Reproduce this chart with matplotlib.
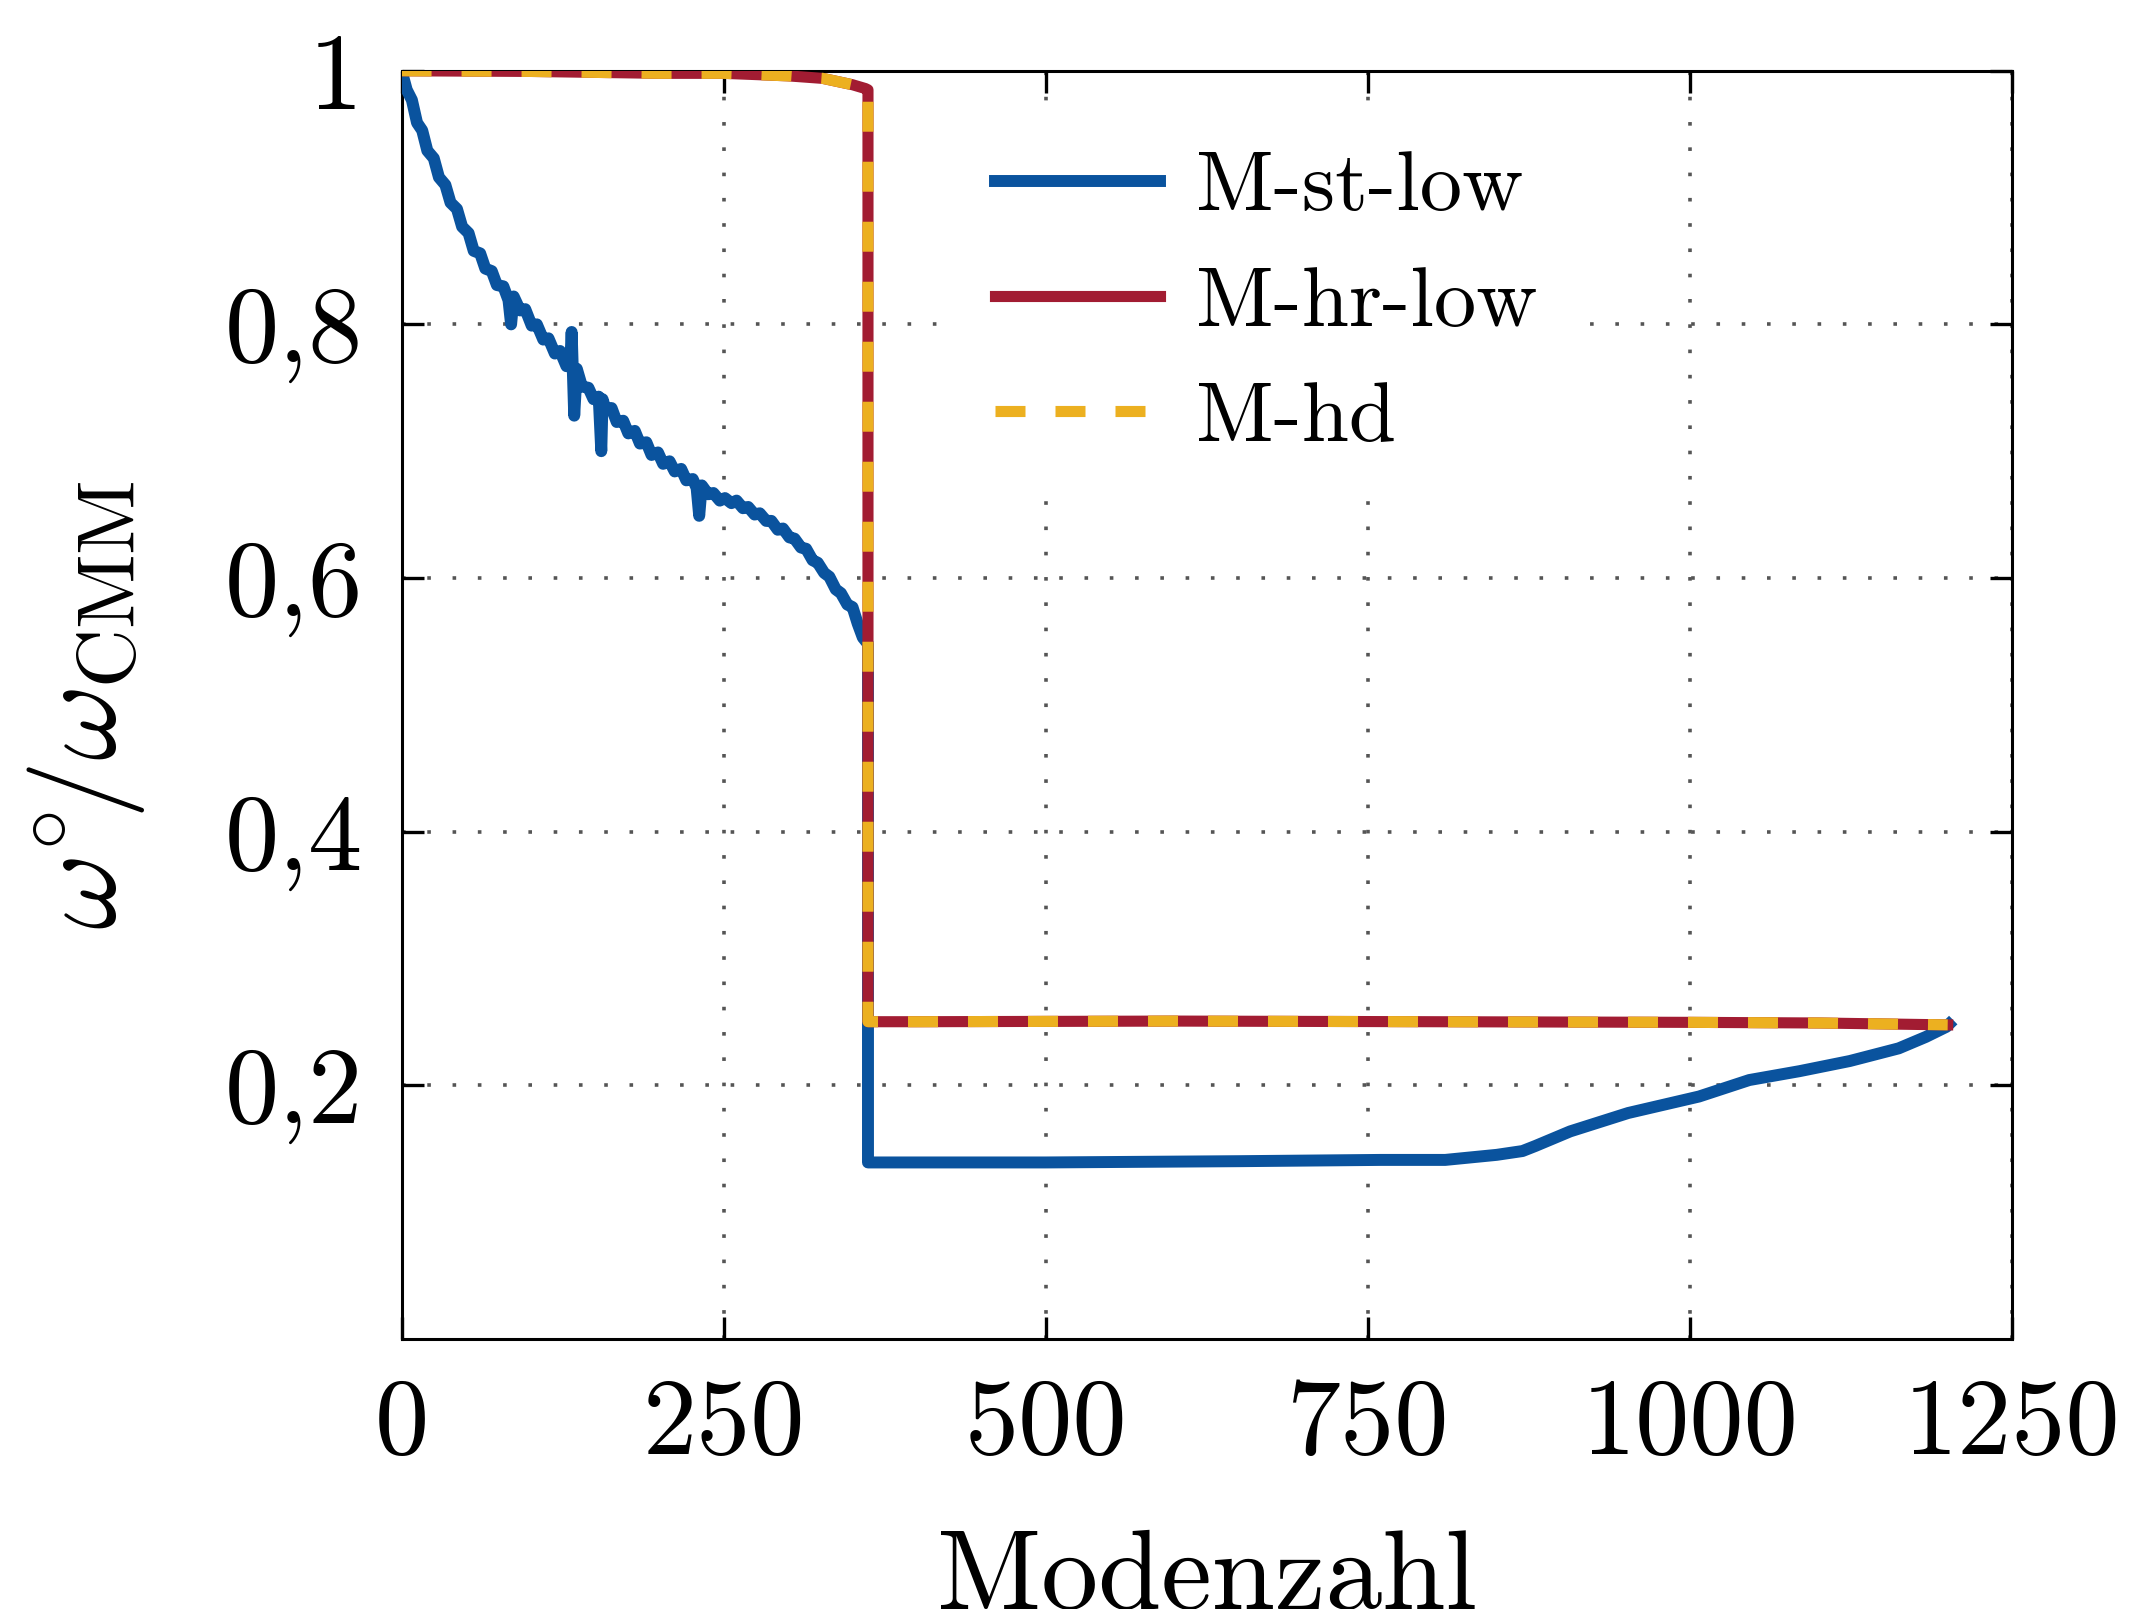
import numpy as np
import matplotlib
matplotlib.use('Agg')
import matplotlib.pyplot as plt

plt.rcParams['font.family'] = 'serif'
plt.rcParams['font.serif'] = ['cmr10', 'DejaVu Serif']
plt.rcParams['mathtext.fontset'] = 'cm'
plt.rcParams['axes.unicode_minus'] = False
plt.rcParams['axes.formatter.use_mathtext'] = True

# M-st-low
st_x = [0, 4, 8, 12, 16, 20, 25, 29, 34, 38, 43, 47, 52, 56, 61, 65, 70, 74, 79, 83,
        85, 87, 92, 96, 101, 105, 110, 114, 119, 123, 128, 131, 132, 134, 136, 140,
        145, 149, 153, 155, 156, 158, 163, 167, 172, 176, 181, 185, 190, 194, 199,
        203, 208, 212, 217, 221, 226, 229, 231, 233, 238, 242, 247, 251, 256, 260,
        265, 269, 274, 278, 283, 287, 292, 296, 301, 305, 310, 314, 319, 323, 328,
        332, 337, 341, 346, 350, 354, 358, 362, 362,
        400, 500, 650, 760, 810, 850, 870, 880, 907, 952, 1007, 1046, 1085, 1124,
        1162, 1183, 1199, 1201]
st_y = [1.000, 0.985, 0.977, 0.959, 0.953, 0.937, 0.931, 0.916, 0.910, 0.896, 0.891,
        0.877, 0.872, 0.858, 0.856, 0.844, 0.842, 0.831, 0.830, 0.819,
        0.800, 0.822, 0.811, 0.812, 0.799, 0.800, 0.788, 0.789, 0.777, 0.779, 0.767,
        0.770, 0.794, 0.728, 0.765, 0.751, 0.750, 0.741, 0.743, 0.700, 0.741, 0.734,
        0.734, 0.723, 0.724, 0.714, 0.716, 0.706, 0.707, 0.697, 0.699, 0.690, 0.692,
        0.684, 0.686, 0.677, 0.678, 0.671, 0.649, 0.673, 0.666, 0.667, 0.661, 0.663,
        0.659, 0.661, 0.655, 0.656, 0.650, 0.651, 0.645, 0.645, 0.638, 0.639, 0.632,
        0.631, 0.624, 0.623, 0.614, 0.612, 0.604, 0.601, 0.591, 0.588, 0.579, 0.577,
        0.564, 0.553, 0.548, 0.139,
        0.139, 0.139, 0.140, 0.141, 0.141, 0.145, 0.148, 0.152, 0.1635, 0.178, 0.191,
        0.204, 0.211, 0.219, 0.229, 0.238, 0.246, 0.248]

# M-hr-low
hr_x = [0, 100, 200, 250, 300, 327, 350, 360, 362, 362, 400, 600, 800, 1000, 1100, 1200]
hr_y = [1.000, 0.9995, 0.998, 0.998, 0.996, 0.994, 0.989, 0.986, 0.985, 0.250,
        0.250, 0.2505, 0.250, 0.2495, 0.249, 0.2475]

# M-hd
hd_x = [0, 100, 200, 250, 300, 327, 350, 360, 362, 362, 400, 600, 800, 1000, 1100, 1200]
hd_y = [1.000, 0.9995, 0.998, 0.998, 0.996, 0.994, 0.989, 0.986, 0.985, 0.250,
        0.250, 0.2505, 0.250, 0.2495, 0.249, 0.2475]

xticks = [0, 250, 500, 750, 1000, 1250]
yticks = [0.2, 0.4, 0.6, 0.8, 1.0]
ytick_labels = ['0,2', '0,4', '0,6', '0,8', '1']

fig = plt.figure(figsize=(10.68, 8.045), dpi=200)
ax = fig.add_axes([0.188, 0.168, 0.754, 0.788])

ax.plot(st_x, st_y, color='#0A539E', lw=4.3, label='M-st-low', zorder=3)
ax.plot(hr_x, hr_y, color='#A21C32', lw=4.0, label='M-hr-low', zorder=4)
ax.plot(hd_x, hd_y, color='#ECB020', lw=4.0, ls=(0, (2.7, 2.7)), label='M-hd', zorder=5)

ax.set_xlim(0, 1250)
ax.set_ylim(0, 1)
ax.set_xticks(xticks)
ax.set_xticklabels([str(t) for t in xticks])
ax.set_yticks(yticks)
ax.set_yticklabels(ytick_labels)
ax.tick_params(direction='in', length=8, width=1.2, top=True, right=True,
               labelsize=39, pad=14)
for s in ax.spines.values():
    s.set_linewidth(1.1)
ax.grid(True, color='#555555', ls=(0, (1, 6)), lw=1.3)
ax.set_axisbelow(True)

ax.set_xlabel('Modenzahl', fontsize=41, labelpad=20)
ax.set_ylabel(r'$\omega^{\circ}\!/\omega_{\mathrm{CMM}}$', fontsize=42, labelpad=28)

leg = ax.legend(loc='upper left', bbox_to_anchor=(0.342, 0.97), fontsize=30.5,
                frameon=True, framealpha=1, edgecolor='none', facecolor='white',
                handlelength=1.95, handletextpad=0.42, labelspacing=0.47,
                borderpad=0.5, borderaxespad=0)
leg.get_frame().set_boxstyle('square', pad=0)

fig.savefig('out.png', dpi=200)
